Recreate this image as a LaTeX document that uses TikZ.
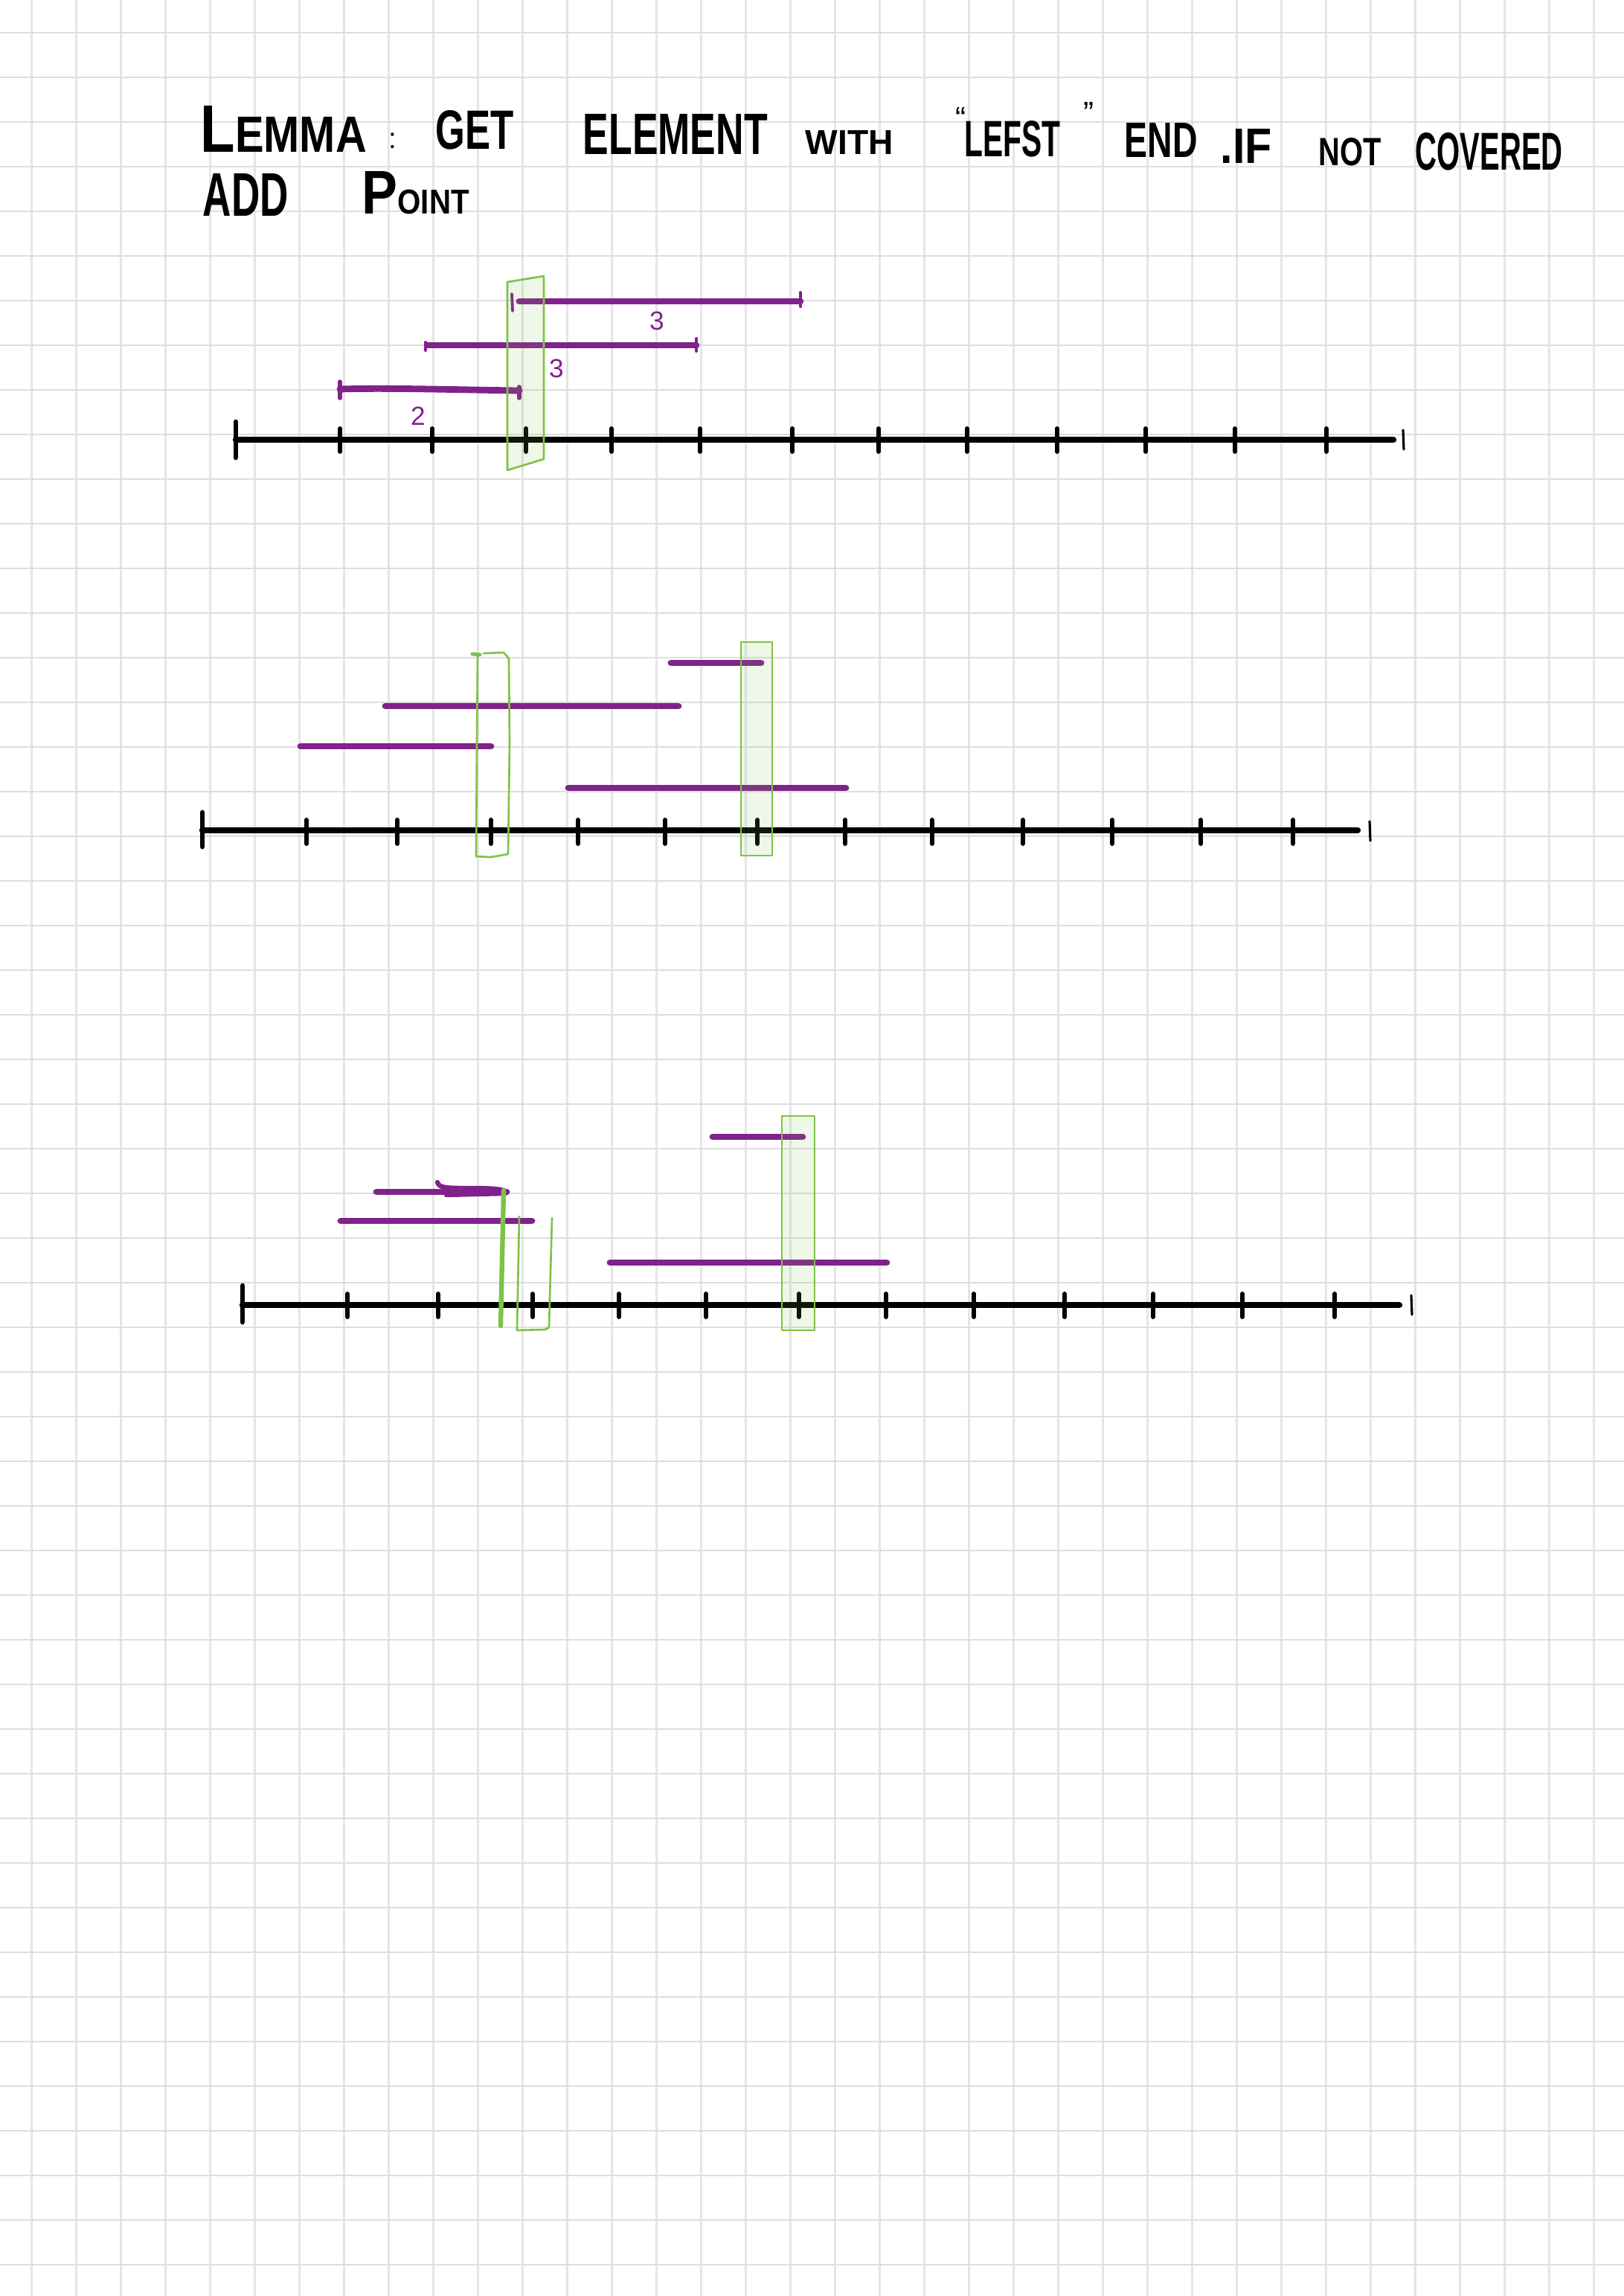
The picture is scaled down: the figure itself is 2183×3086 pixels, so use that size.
\documentclass[tikz,border=0pt]{standalone}
\usepackage{fontspec}
\setmainfont{Liberation Sans}
\usepackage{graphicx}
\usepackage{xcolor}
\definecolor{segpurple}{RGB}{128,34,139}
\definecolor{covergreen}{RGB}{125,195,70}

\begin{document}
\begin{tikzpicture}[x=0.01cm,y=-0.01cm,line cap=round,line join=round,
  gridh/.style={black!13,line width=0.75pt},
  gridv/.style={black!10,line width=0.7pt},
  axisline/.style={line width=2.4pt},
  tickmark/.style={line width=1.7pt},
  seg/.style={segpurple,line width=2.5pt},
  segend/.style={segpurple,line width=1.1pt},
  cover/.style={covergreen,line width=0.75pt,fill=covergreen,fill opacity=0.12},
  coverline/.style={covergreen,line width=0.75pt},
  lettering/.style={anchor=base west,inner sep=0pt,font=\bfseries},
  quotemark/.style={anchor=north,inner sep=0pt,font=\fontsize{12}{14}\selectfont},
  digit/.style={segpurple,inner sep=0pt,font=\fontsize{10}{12}\selectfont}]
\useasboundingbox[fill=white] (0,0) rectangle (2183,3086);
\foreach \gx in {42.5,102.5,...,2182} \draw[gridv] (\gx,0) -- (\gx,3086);
\foreach \gy in {44,104,...,3086} \draw[gridh] (0,\gy) -- (2183,\gy);

\node[lettering] (lemma) at (269,204) {\resizebox{2.23cm}{0.62cm}{L\scalebox{0.76}{EMMA}}};
\node[inner sep=0pt,font=\fontsize{11}{13}\selectfont] (colon) at (528,189) {:};
\node[lettering] (get) at (585,200) {\resizebox{1.05cm}{0.52cm}{GET}};
\node[lettering] (element) at (783,207) {\resizebox{2.48cm}{0.54cm}{ELEMENT}};
\node[lettering] (with) at (1082,207) {\resizebox{1.18cm}{0.32cm}{WITH}};
\node[quotemark] (lq) at (1292,144) {“};
\node[lettering] (lefst) at (1296,210) {\resizebox{1.29cm}{0.48cm}{LEFST}};
\node[quotemark] (rq) at (1464,137) {”};
\node[lettering] (endw) at (1511,211) {\resizebox{0.98cm}{0.46cm}{END}};
\node[lettering] (ifw) at (1640,219) {\resizebox{0.69cm}{0.46cm}{.IF}};
\node[lettering] (notw) at (1772,222) {\resizebox{0.84cm}{0.37cm}{NOT}};
\node[lettering] (covered) at (1902,228) {\resizebox{1.98cm}{0.50cm}{COVERED}};
\node[lettering] (add) at (272,290) {\resizebox{1.15cm}{0.57cm}{ADD}};
\node[lettering] (point) at (486,287) {\resizebox{1.44cm}{0.57cm}{P\scalebox{0.56}{OINT}}};

\draw[axisline] (317,591) -- (1873,591);
\draw[tickmark,line width=1.9pt] (317,567) -- (317,615);
\foreach \t in {457,581,707,822,941,1065,1181,1300,1421,1540,1660,1783}
  \draw[tickmark] (\t,576) -- (\t,607);
\draw[tickmark,line width=0.9pt] (1886,578) -- (1887,604);
\draw[seg] (698,405) -- (1076,405);
\draw[segend] (688,395) -- (689,418);
\draw[segend] (1076,393) -- (1076,412);
\draw[seg] (574,464) -- (936,464);
\draw[segend] (572,460) -- (572,471);
\draw[segend] (936,455) -- (936,472);
\draw[seg] (457,523) .. controls (520,521) and (620,524) .. (698,525);
\draw[segend,line width=1.6pt] (457,513) -- (457,535);
\draw[segend,line width=1.6pt] (698,520) -- (698,535);
\node[digit] (lthreea) at (883,431) {3};
\node[digit] (lthreeb) at (748,495) {3};
\node[digit] (ltwo) at (562,559) {2};
\draw[cover] (682,379) -- (731,371) -- (731,617) -- (682,632) -- cycle;

\draw[axisline] (272,1116) -- (1825,1116);
\draw[tickmark,line width=1.9pt] (272,1092) -- (272,1138);
\foreach \t in {412,534,660,777,894,1018,1136,1253,1375,1495,1614,1738}
  \draw[tickmark] (\t,1102) -- (\t,1134);
\draw[tickmark,line width=0.9pt] (1841,1104) -- (1842,1130);
\draw[seg] (902,891) -- (1023,891);
\draw[seg] (518,949) -- (912,949);
\draw[seg] (404,1003) -- (660,1003);
\draw[seg] (764,1059) -- (1137,1059);
\draw[coverline] (650,878) -- (677,877) -- (684,885) -- (685,1000) -- (683,1148)
  -- (660,1152) -- (640,1151) -- (641,1000) -- (642,879);
\draw[coverline,line width=1.4pt] (635,879) -- (645,880);
\draw[cover] (996,863) rectangle (1038,1150);

\draw[axisline] (326,1754) -- (1881,1754);
\draw[tickmark,line width=1.9pt] (326,1728) -- (326,1777);
\foreach \t in {467,589,716,832,949,1074,1191,1309,1431,1550,1670,1794}
  \draw[tickmark] (\t,1739) -- (\t,1770);
\draw[tickmark,line width=0.9pt] (1897,1741) -- (1898,1767);
\draw[seg] (958,1528) -- (1079,1528);
\draw[seg] (506,1602) -- (681,1602);
\draw[seg,line width=1.8pt] (588,1589) .. controls (590,1597) and (600,1597) .. (640,1597)
  .. controls (670,1597) and (684,1600) .. (680,1604) -- (600,1606);
\draw[seg] (458,1641) -- (715,1641);
\draw[seg] (820,1697) -- (1192,1697);
\draw[covergreen,line width=1.8pt] (677,1600) -- (673,1782);
\draw[coverline] (698,1635) -- (695,1788) -- (733,1787) -- (738,1784) -- (742,1637);
\draw[cover] (1051,1500) rectangle (1095,1788);
\end{tikzpicture}
\end{document}
